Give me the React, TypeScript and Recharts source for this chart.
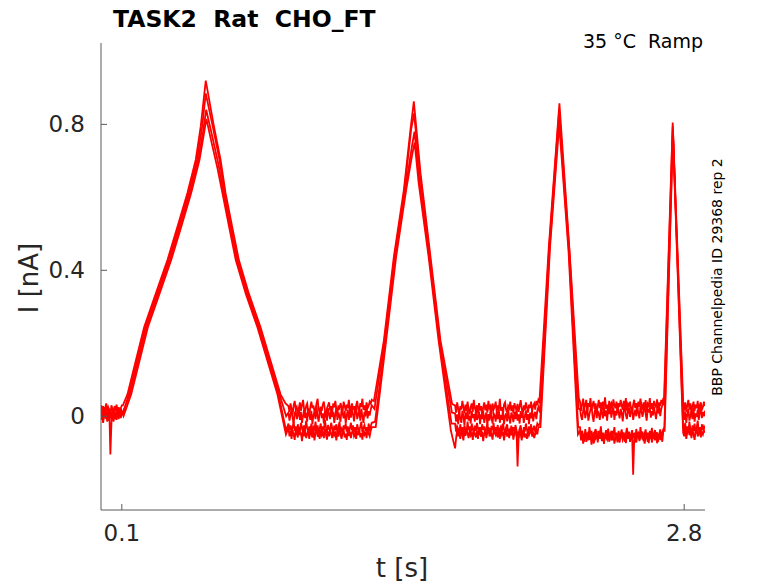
import React from "react";
import { Line, LineChart, XAxis, YAxis } from "recharts";

// Four repeated sweeps of the ramp protocol. Current values are kept in pA
// (integers) and converted to nA for plotting.

// sampling step of the flat (holding) stretches, seconds
const STEP = 0.005;

// start time of each flat stretch
const B0_START = 0.0;
const B1_START = 0.9;
const B2_START = 1.7;
const B3_START = 2.3;
const B4_START = 2.8;

const X_TICKS = [0.1, 2.8];
const Y_TICKS = [0, 0.4, 0.8];

type Knot = [number, number]; // [t in s, I in pA]

// ---- sweep A (highest peaks) ----
const a_b0 = [30, 15, 28, 5, 22, 35, 10, 25, 18, 2, 30, 20, 8, 28, 15, 32, 12, 25, 5, 22, 30];
const a_r1: Knot[] = [
  [0.105, 30], [0.127, 60], [0.167, 152], [0.207, 244], [0.263, 336], [0.319, 428], [0.367, 519],
  [0.415, 612], [0.455, 703], [0.479, 795], [0.503, 920], [0.542, 795], [0.574, 703], [0.598, 612],
  [0.63, 519], [0.662, 428], [0.71, 336], [0.766, 244], [0.814, 152], [0.862, 60], [0.886, 35],
];
const a_b1 = [
  28, 12, 35, 20, 5, 30, 42, 18, 25, 8, 22, 38, 15, 30, 45, 20, 10, 28, 35, 14,
  0, 25, 40, 22, 30, 12, 18, 36, 48, 20, 8, 26, 15, 32, 40, 18, 5, 22, 30, 38,
  16, 28, 10, 35, 24, 42, 20, 6, 30, 18, 36, 25, 12, 40, 28, 15, 32, 22, 45, 10,
  24, 35, 18, 28, 8, 30, 42, 20, 15, 36, 25, 48, 18, 30, 12, 38, 22, 28, 40, 35, 45,
];
const a_r2: Knot[] = [
  [1.31, 41], [1.358, 207], [1.406, 437], [1.454, 620], [1.486, 786], [1.502, 863],
  [1.534, 667], [1.582, 437], [1.63, 207], [1.686, 33],
];
const a_b2 = [
  30, 10, 38, 22, 2, 28, 18, 42, 25, 8, 32, 15, 40, 20, 5, 26, 35, 12, 45, 22,
  15, 30, 8, 36, 20, 28, 0, 24, 38, 16, 32, 10, 42, 22, 28, 6, 35, 18, 26, 40,
  12, 30, 20, 48, 15, 25, 5, 32, 38, 18, 10, 28, 22, 40, 14, 30, 8, 36, 24, 18,
  34, 12, 28, 44, 20, 6, 30, 16, 38, 25, 10, 32, 22, 40, 15, 28, 35, 18, 42, 30, 45,
];
const a_r3: Knot[] = [[2.105, 40], [2.15, 464], [2.201, 858], [2.25, 450], [2.294, 50]];
const a_b3 = [
  40, 15, 32, 48, 22, 30, 45, 12, 36, 25, 50, 18, 30, 42, 20, 35, 8, 28, 45, 22,
  38, 15, 40, 26, 52, 20, 32, 10, 42, 28, 35, 16, 46, 30, 22, 40, 12, 36, 25, 45,
  30, 18, 42, 24, 50, 15, 34, 28, 40, 20, 8, 32, 45, 22, 36, 14, 40, 26, 48, 30,
  18, 38, 24, 44, 12, 34, 28, 50, 20, 36, 16, 42, 30, 25, 46, 18, 38, 28, 45, 35, 50,
];
const a_r4: Knot[] = [[2.703, 40], [2.745, 805], [2.797, 10]];
const a_b4 = [20, 38, 12, 30, 45, 18, 35, 8, 28, 40, 15, 32, 22, 42, 10, 30, 38, 18, 25, 40, 28];

// ---- sweep B ----
const b_b0 = [0, 18, -8, 12, 25, -5, 10, -12, 15, -105, -20, 8, 20, -5, 12, 0, 18, -8, 10, 22, 5];
const b_r1: Knot[] = [
  [0.106, 5], [0.133, 60], [0.173, 152], [0.213, 244], [0.269, 336], [0.325, 428], [0.373, 519],
  [0.421, 612], [0.461, 703], [0.486, 795], [0.503, 885], [0.536, 795], [0.569, 703], [0.593, 612],
  [0.625, 519], [0.657, 428], [0.705, 336], [0.761, 244], [0.809, 152], [0.857, 60], [0.889, 0],
];
const b_b1 = [
  10, -12, 5, 20, -5, -20, 8, 15, -8, 2, 25, -10, 12, -18, 0, 18, -5, 10, -15, 22,
  5, -10, 15, -22, 3, 12, -8, 28, 0, -15, 10, 20, -5, 8, -20, 15, 2, -12, 22, 6,
  -8, 18, -2, 12, -18, 5, 25, -10, 10, 0, -15, 20, 8, -6, 15, -20, 3, 18, -10, 12,
  -4, 22, 6, -14, 10, 28, -8, 4, 16, -12, 20, 0, -18, 12, 5, 24, -6, 14, 2, 18, 30,
];
const b_r2: Knot[] = [
  [1.313, 20], [1.361, 207], [1.409, 437], [1.457, 620], [1.489, 786], [1.503, 830],
  [1.531, 667], [1.579, 437], [1.627, 207], [1.685, 10],
];
const b_b2 = [
  8, -15, 5, -22, 12, -5, -18, 15, 0, -25, 10, -8, 18, -12, 2, -20, 14, -5, 6, -15,
  20, -10, -2, 12, -22, 5, -8, 15, -18, 0, 10, -25, 6, -12, 16, -5, -20, 8, 2, -15,
  12, -8, 20, -18, 4, -10, 15, -22, 0, 8, -14, 18, -5, -20, 10, 2, -16, 12, -8, 22,
  -12, 5, -20, 14, -4, 8, -18, 0, 16, -10, 6, -22, 10, -6, 18, -14, 4, 12, -8, 15, 25,
];
const b_r3: Knot[] = [[2.107, 10], [2.152, 464], [2.2, 840], [2.249, 450], [2.293, 20]];
const b_b3 = [
  20, 0, -10, 15, 28, -5, 10, 22, -12, 5, 18, 30, 0, -15, 12, 25, -5, 15, 5, -10,
  22, 10, -6, 26, 0, 16, -12, 20, 6, 32, -4, 12, 24, -10, 15, 2, 28, 10, -6, 20,
  8, -14, 18, 30, 4, -8, 14, 24, -2, 12, 26, -10, 6, 18, 0, 22, 10, -6, 28, 14,
  -2, 16, 30, 6, -12, 20, 10, 24, -4, 14, 2, 26, 8, -8, 18, 12, 28, 0, 20, 30, 40,
];
const b_r4: Knot[] = [[2.704, 30], [2.745, 795], [2.796, 0]];
const b_b4 = [-10, 12, -18, 5, 20, -12, 0, 15, -8, 22, -15, 8, -2, 18, -10, 10, 25, -5, 12, 0, 15];

// ---- sweep C ----
const c_b0 = [15, -10, 5, 22, -5, 12, -15, 8, 20, -2, 10, -12, 18, 2, -8, 15, 25, 0, 12, -5, 10];
const c_r1: Knot[] = [
  [0.107, 15], [0.139, 60], [0.179, 152], [0.219, 244], [0.275, 336], [0.331, 428], [0.379, 519],
  [0.427, 612], [0.467, 703], [0.49, 780], [0.505, 840], [0.533, 770], [0.564, 690], [0.588, 612],
  [0.62, 519], [0.652, 428], [0.7, 336], [0.756, 244], [0.804, 152], [0.852, 60], [0.889, -40],
];
const c_b1 = [
  -20, -38, -25, -45, -30, -15, -40, -28, -50, -22, -35, -42, -18, -30, -48, -25, -38, -12, -32, -45,
  -28, -40, -20, -55, -30, -36, -15, -42, -25, -50, -33, -20, -44, -28, -38, -10, -30, -46, -24, -35,
  -40, -18, -32, -50, -26, -38, -22, -45, -30, -15, -40, -34, -52, -25, -36, -20, -42, -28, -48, -32,
  -18, -38, -25, -44, -30, -50, -22, -35, -40, -28, -15, -45, -32, -24, -40, -30, -48, -20, -36, -28, -18,
];
const c_r2: Knot[] = [
  [1.316, -15], [1.365, 207], [1.413, 437], [1.461, 620], [1.493, 740], [1.505, 780],
  [1.528, 650], [1.576, 437], [1.624, 207], [1.683, -20],
];
const c_b2 = [
  -20, -42, -28, -35, -50, -22, -40, -30, -55, -25, -36, -45, -15, -38, -28, -50, -20, -35, -46, -26,
  -40, -18, -34, -52, -30, -44, -22, -38, -28, -48, -35, -20, -42, -32, -55, -26, -38, -18, -45, -30,
  -40, -24, -50, -34, -28, -42, -20, -36, -48, -30, -22, -44, -35, -52, -26, -40, -30, -46, -24, -38,
  -138, -60, -35, -25, -45, -58, -30, -42, -20, -36, -48, -28, -40, -22, -50, -34, -26, -44, -32, -20, -25,
];
const c_r3: Knot[] = [[2.108, -20], [2.154, 464], [2.2, 820], [2.247, 450], [2.291, -30]];
const c_b3 = [
  -30, -60, -40, -52, -70, -35, -55, -45, -66, -30, -50, -40, -62, -75, -44, -35, -56, -65, -40, -50,
  -28, -60, -45, -70, -50, -38, -62, -34, -56, -45, -66, -40, -50, -30, -60, -46, -72, -40, -55, -50,
  -36, -62, -44, -70, -48, -32, -58, -42, -66, -50, -38, -60, -46, -72, -35, -54, -44, -64, -30, -52,
  -42, -68, -48, -36, -60, -45, -74, -40, -55, -32, -62, -48, -38, -58, -44, -70, -50, -36, -56, -45, -35,
];
const c_r4: Knot[] = [[2.705, -30], [2.746, 785], [2.795, -30]];
const c_b4 = [-40, -18, -50, -28, -45, -15, -35, -52, -25, -40, -20, -48, -32, -12, -42, -30, -55, -22, -38, -28, -35];

// ---- sweep D (lowest) ----
const d_b0 = [-10, 8, -18, 0, 15, -8, 5, 20, -12, 10, -5, 18, -15, 2, 12, -10, 8, -2, 15, 5, 12];
const d_r1: Knot[] = [
  [0.108, 0], [0.145, 60], [0.185, 152], [0.225, 244], [0.281, 336], [0.337, 428], [0.385, 519],
  [0.433, 612], [0.473, 703], [0.493, 770], [0.506, 815], [0.531, 750], [0.559, 680], [0.583, 612],
  [0.615, 519], [0.647, 428], [0.695, 336], [0.751, 244], [0.799, 152], [0.847, 60], [0.888, -50],
];
const d_b1 = [
  -32, -55, -40, -62, -38, -50, -65, -35, -48, -58, -30, -52, -44, -68, -40, -55, -36, -60, -48, -42,
  -62, -35, -50, -58, -40, -66, -45, -32, -56, -48, -62, -38, -52, -44, -60, -35, -50, -64, -42, -55,
  -38, -48, -60, -34, -52, -46, -66, -40, -56, -30, -50, -62, -44, -38, -58, -48, -65, -36, -54, -42,
  -60, -45, -34, -55, -48, -62, -40, -52, -35, -58, -46, -64, -38, -50, -42, -60, -36, -48, -55, -40, -30,
];
const d_r2: Knot[] = [
  [1.319, -30], [1.369, 207], [1.417, 437], [1.465, 620], [1.495, 720], [1.506, 750],
  [1.525, 640], [1.573, 437], [1.621, 207], [1.68, -40],
];
const d_b2 = [
  -88, -60, -38, -55, -42, -62, -35, -50, -66, -40, -54, -32, -48, -60, -38, -52, -44, -65, -36, -50,
  -58, -40, -62, -30, -46, -56, -42, -68, -48, -35, -60, -45, -30, -55, -40, -50, -64, -36, -46, -52,
  -38, -58, -44, -62, -34, -50, -42, -66, -48, -36, -56, -44, -60, -32, -52, -40, -64, -46, -38, -55,
  -42, -60, -35, -50, -66, -44, -38, -58, -48, -62, -36, -52, -45, -30, -56, -42, -60, -48, -38, -50, -30,
];
const d_r3: Knot[] = [[2.11, -30], [2.156, 464], [2.2, 800], [2.245, 450], [2.29, -50]];
const d_b3 = [
  -40, -66, -50, -75, -55, -45, -70, -60, -42, -65, -50, -78, -55, -44, -66, -60, -40, -72, -50, -62,
  -46, -68, -55, -76, -50, -58, -64, -44, -70, -54, -40, -66, -50, -75, -60, -45, -68, -52, -72, -56,
  -42, -65, -58, -48, -74, -52, -62, -46, -70, -55, -50, -160, -66, -44, -72, -55, -48, -68, -58, -42,
  -64, -52, -75, -60, -46, -70, -54, -62, -44, -72, -56, -50, -66, -45, -74, -58, -48, -65, -52, -70, -40,
];
const d_r4: Knot[] = [[2.706, -40], [2.746, 775], [2.795, -45]];
const d_b4 = [-55, -35, -62, -45, -30, -52, -40, -60, -35, -50, -65, -42, -30, -55, -48, -36, -58, -44, -50, -38, -45];

type Pt = { t: number; i: number };

function flat(start: number, vals: number[]): Pt[] {
  return vals.map((v, k) => ({ t: +(start + k * STEP).toFixed(4), i: v / 1000 }));
}
function ramp(knots: Knot[]): Pt[] {
  return knots.map(([t, v]) => ({ t, i: v / 1000 }));
}

function sweep(
  b0: number[], r1: Knot[], b1: number[], r2: Knot[], b2: number[],
  r3: Knot[], b3: number[], r4: Knot[], b4: number[],
): Pt[] {
  return [
    ...flat(B0_START, b0), ...ramp(r1), ...flat(B1_START, b1), ...ramp(r2),
    ...flat(B2_START, b2), ...ramp(r3), ...flat(B3_START, b3), ...ramp(r4), ...flat(B4_START, b4),
  ];
}

const sweeps = [
  sweep(a_b0, a_r1, a_b1, a_r2, a_b2, a_r3, a_b3, a_r4, a_b4),
  sweep(b_b0, b_r1, b_b1, b_r2, b_b2, b_r3, b_b3, b_r4, b_b4),
  sweep(c_b0, c_r1, c_b1, c_r2, c_b2, c_r3, c_b3, c_r4, c_b4),
  sweep(d_b0, d_r1, d_b1, d_r2, d_b2, d_r3, d_b3, d_r4, d_b4),
];

const FONT = "DejaVu Sans, sans-serif";
const INK = "#262626";
const AXIS = "#5a5a5a";

// ticks point inward, matching the original figure
const XTick = (props: any) => {
  const { x, y, payload } = props;
  return (
    <g>
      <line x1={x} y1={y} x2={x} y2={y - 6} stroke={AXIS} strokeWidth={1} />
      <text x={x} y={y + 31} textAnchor="middle" fontSize={23} fontFamily={FONT} fill={INK}>
        {String(payload.value)}
      </text>
    </g>
  );
};

const YTick = (props: any) => {
  const { x, y, payload } = props;
  return (
    <g>
      <line x1={x} y1={y} x2={x + 6} y2={y} stroke={AXIS} strokeWidth={1} />
      <text x={x - 16} y={y + 8} textAnchor="end" fontSize={23} fontFamily={FONT} fill={INK}>
        {String(payload.value)}
      </text>
    </g>
  );
};

export default function App() {
  return (
    <div style={{ position: "absolute", left: 0, top: 0, width: 778, height: 583, background: "#fff" }}>
      <LineChart width={778} height={583} margin={{ top: 43, right: 73, bottom: 0, left: 0 }}>
        <XAxis
          type="number"
          dataKey="t"
          domain={[0, 2.9]}
          ticks={X_TICKS}
          allowDataOverflow
          height={73}
          tickSize={0}
          tickMargin={0}
          tick={<XTick />}
          axisLine={{ stroke: AXIS }}
        />
        <YAxis
          type="number"
          domain={[-0.257, 1.023]}
          ticks={Y_TICKS}
          allowDataOverflow
          width={101}
          tickSize={0}
          tickMargin={0}
          tick={<YTick />}
          axisLine={{ stroke: AXIS }}
        />
        {sweeps.map((d, k) => (
          <Line
            key={k}
            data={d}
            dataKey="i"
            type="linear"
            stroke="#ff0000"
            strokeWidth={1.8}
            dot={false}
            isAnimationActive={false}
          />
        ))}
      </LineChart>
      <svg
        width={778}
        height={583}
        style={{ position: "absolute", left: 0, top: 0, pointerEvents: "none" }}
        fontFamily={FONT}
      >
        <text x={113} y={27} fontSize={23.5} fontWeight="bold" fill="#000" style={{ whiteSpace: "pre" }}>
          {"TASK2  Rat  CHO_FT"}
        </text>
        <text x={703} y={48} fontSize={19} textAnchor="end" fill="#000" style={{ whiteSpace: "pre" }}>
          {"35 °C  Ramp"}
        </text>
        <text transform="translate(722,277) rotate(-90)" fontSize={14} textAnchor="middle" fill="#000">
          BBP Channelpedia ID 29368 rep 2
        </text>
        <text x={402} y={577} fontSize={26} textAnchor="middle" fill={INK}>
          t [s]
        </text>
        <text transform="translate(38,278) rotate(-90)" fontSize={26} textAnchor="middle" fill={INK}>
          I [nA]
        </text>
      </svg>
    </div>
  );
}
